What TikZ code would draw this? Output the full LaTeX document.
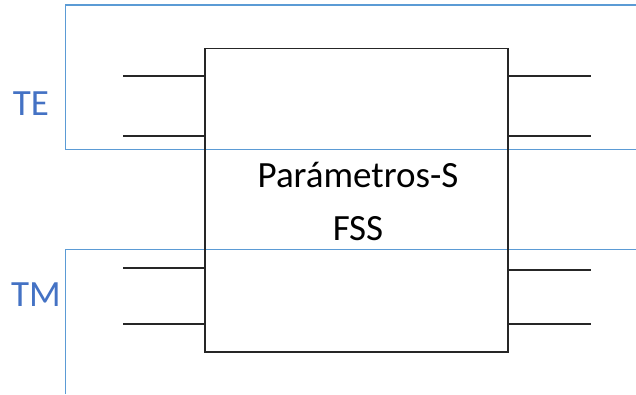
\documentclass[tikz,border=0pt]{standalone}
\usepackage{fontspec}
\setmainfont{Carlito}
\definecolor{tblue}{HTML}{4472C4}
\definecolor{lblue}{HTML}{5B9BD5}
\begin{document}
\begin{tikzpicture}[x=1pt,y=-1pt,
  port/.style={draw=black!85,line width=1.5pt},
  bracket/.style={draw=lblue,line width=1.5pt},
  lab/.style={font=\fontsize{37}{53}\selectfont,text=tblue,inner sep=0pt}]
\useasboundingbox (0,0) rectangle (636,394);
% brackets
\draw[bracket] (636,5) -- (65.5,5) -- (65.5,149.5) -- (636,149.5);
\draw[bracket] (636,249.5) -- (65.5,249.5) -- (65.5,394);
% box
\node[draw=black!85,line width=1.5pt,minimum width=303pt,minimum height=303.5pt,inner sep=0pt] (box) at (356.5,200.25) {};
\node[font=\fontsize{37}{53}\selectfont,align=center,inner sep=0pt] (txt) at (358,201) {Parámetros-S\\FSS};
% ports
\coordinate (l1) at (123,76); \coordinate (l2) at (123,136);
\coordinate (l3) at (123,268); \coordinate (l4) at (123,324);
\coordinate (r1) at (591,76); \coordinate (r2) at (591,136);
\coordinate (r3) at (591,270); \coordinate (r4) at (591,324);
\draw[port] (l1) -- (box.west |- l1);
\draw[port] (l2) -- (box.west |- l2);
\draw[port] (l3) -- (box.west |- l3);
\draw[port] (l4) -- (box.west |- l4);
\draw[port] (box.east |- r1) -- (r1);
\draw[port] (box.east |- r2) -- (r2);
\draw[port] (box.east |- r3) -- (r3);
\draw[port] (box.east |- r4) -- (r4);
% labels
\node[lab] (te) at (31,104) {TE};
\node[lab] (tm) at (36,295) {TM};
\end{tikzpicture}
\end{document}
